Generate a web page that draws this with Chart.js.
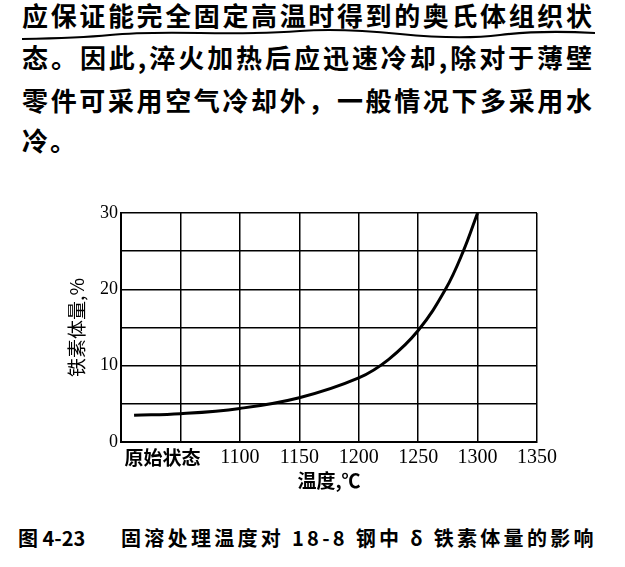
<!DOCTYPE html>
<html><head><meta charset="utf-8">
<script src="https://cdn.jsdelivr.net/npm/chart.js@4.4.0/dist/chart.umd.min.js"></script>
<style>
html,body{margin:0;padding:0;background:#fff;}
body{width:625px;height:567px;position:relative;overflow:hidden;font-family:'Noto Sans CJK SC',sans-serif;color:#000;}
.line{position:absolute;left:22px;width:570px;font-size:26px;font-weight:700;line-height:30px;text-align:justify;text-align-last:justify;}
.short{position:absolute;left:22px;font-size:26px;font-weight:700;line-height:30px;letter-spacing:2px;}
#wrap{position:absolute;left:0;top:190px;width:625px;height:310px;}
.cap{position:absolute;top:525px;font-size:20px;font-weight:700;line-height:26px;white-space:pre;}
svg{position:absolute;left:0;top:0;}
</style>
</head><body>
<div class="line" style="top:0px">应保证能完全固定高温时得到的奥氏体组织状</div>
<svg width="625" height="60"><path d="M22 39 Q80 38 110 35 T200 33 T300 31 T400 34 T500 35 T595 33" stroke="#000" stroke-width="2.2" fill="none"/></svg>
<div class="line" style="top:42px">态。因此,淬火加热后应迅速冷却,除对于薄壁</div>
<div class="line" style="top:85px">零件可采用空气冷却外，一般情况下多采用水</div>
<div class="short" style="top:125px">冷。</div>
<div id="wrap"><canvas id="c" width="625" height="310"></canvas></div>
<div class="cap" style="left:18px">图 4-23</div>
<div class="cap" style="left:121px;letter-spacing:3.3px">固溶处理温度对 18-8 钢中 δ 铁素体量的影响</div>
<script>
const xTickValues = [1000, 1035, 1050, 1100, 1150, 1200, 1250, 1300, 1350];
const xTickLabels = ['', '原始状态', '', '1100', '1150', '1200', '1250', '1300', '1350'];
const yTickLabels = {0:'0', 10:'10', 20:'20', 30:'30'};
const temps   = [1011, 1050, 1100, 1150, 1200, 1225, 1250, 1273, 1288, 1300];
const ferrite = [3.5, 3.7, 4.4, 5.8, 8.4, 10.8, 14.6, 20, 25, 30];
const xTitle = '温度,℃';
const yTitle = '铁素体量,%';

const serif = "'Liberation Serif','DejaVu Serif',serif";
const cjk = "'Noto Sans CJK SC',sans-serif";

new Chart(document.getElementById('c'), {
  type: 'line',
  data: {
    datasets: [{
      data: temps.map((t, i) => ({x: t, y: ferrite[i]})),
      borderColor: '#000',
      borderWidth: 3,
      pointRadius: 0,
      tension: 0.4,
      fill: false,
      clip: false
    }]
  },
  options: {
    responsive: false,
    animation: false,
    devicePixelRatio: 1,
    layout: {padding: {left: 65, right: 88, top: 23, bottom: 8}},
    plugins: {legend: {display: false}, tooltip: {enabled: false}},
    scales: {
      x: {
        type: 'linear', min: 1000, max: 1350,
        afterBuildTicks: s => { s.ticks = xTickValues.map(v => ({value: v})); },
        afterFit: s => { s.height = 50; },
        ticks: {
          autoSkip: false, maxRotation: 0, minRotation: 0, padding: 4, color: '#000',
          callback: (v, i) => xTickLabels[i],
          font: c => (c.tick && c.tick.value === 1035) ? {family: cjk, size: 19, weight: 'bold'} : {family: serif, size: 20}
        },
        grid: {
          color: c => (c.tick && c.tick.value === 1035) ? 'rgba(0,0,0,0)' : '#000',
          lineWidth: 1.5, drawTicks: false
        },
        border: {color: '#000', width: 2},
        title: {display: true, text: xTitle, color: '#000', padding: 0, font: {family: cjk, size: 19, weight: 'bold'}}
      },
      y: {
        min: 0, max: 30,
        afterFit: s => { s.width = 56; },
        ticks: {
          stepSize: 5, padding: 3, color: '#000',
          callback: v => (yTickLabels[v] !== undefined ? yTickLabels[v] : ''),
          font: {family: serif, size: 18}
        },
        grid: {color: '#000', lineWidth: 1.5, drawTicks: false},
        border: {color: '#000', width: 2},
        title: {display: true, text: yTitle, color: '#000', padding: 0, font: {family: cjk, size: 19}}
      }
    }
  }
});
</script>
</body></html>
